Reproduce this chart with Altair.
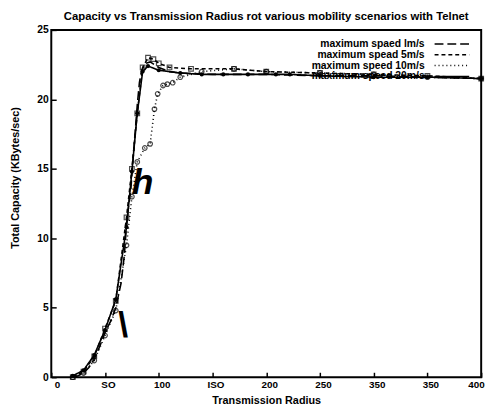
import altair as alt
import pandas as pd

chart_title = "Capacity vs Transmission Radius rot various mobîlity scenarios with Telnet"
x_title = "Transmission Radius"
y_title = "Total Capacity (KBytes/sec)"

series_names = ["maximum spaed lm/s", "maximum spead 5m/s",
                "maximum speed 10m/s", "maximum speed 20m/s"]

# 1 m/s
r1 = [20, 25, 30, 35, 40, 45, 50, 55, 60, 65, 68, 70, 72, 74, 76, 78, 80, 82, 84, 88, 92, 96, 100, 110, 120, 150, 200, 250, 300, 350, 400]
c1 = [0.0, 0.1, 0.3, 0.7, 1.3, 2.2, 3.2, 4.0, 5.0, 6.8, 8.8, 11.0, 12.4, 13.5, 15.6, 17.6, 19.6, 21.2, 22.1, 22.6, 22.7, 22.5, 22.3, 22.0, 21.9, 21.8, 21.8, 21.7, 21.7, 21.6, 21.5]
# 5 m/s
r2 = [20, 30, 40, 50, 60, 70, 75, 80, 85, 90, 95, 100, 110, 130, 170, 200, 250, 300, 350, 400]
c2 = [0.0, 0.4, 1.5, 3.5, 5.5, 11.5, 15.0, 19.0, 22.3, 23.0, 22.9, 22.6, 22.3, 22.2, 22.2, 22.0, 21.9, 21.8, 21.7, 21.5]
# 10 m/s
r3 = [20, 30, 40, 50, 60, 70, 75, 80, 87, 92, 96, 99, 104, 108, 113, 120, 140, 170, 200, 250, 300, 350, 400]
c3 = [0.0, 0.3, 1.2, 3.0, 4.8, 9.5, 13.0, 15.5, 16.5, 16.8, 19.3, 20.4, 21.0, 21.1, 21.2, 21.6, 22.0, 22.2, 22.0, 21.9, 21.8, 21.6, 21.5]
# 20 m/s
r4 = [20, 30, 40, 50, 60, 70, 75, 80, 85, 90, 100, 120, 140, 160, 183, 209, 222, 250, 300, 350, 400]
c4 = [0.1, 0.5, 1.6, 3.4, 5.6, 10.8, 14.8, 19.0, 22.0, 22.4, 22.1, 21.9, 21.8, 21.8, 21.8, 21.8, 21.8, 21.7, 21.6, 21.6, 21.5]

x_tick_values = [0, 50, 100, 150, 200, 250, 300, 350, 400]
x_tick_labels = ["0", "SO", "100", "ISO", "200", "250", "350", "350", "400"]
y_tick_values = [0, 5, 10, 15, 20, 25]

glyphs = ["h", "\\"]
glyph_x = [85, 67]
glyph_y = [14.0, 3.7]

rows = []
for name, rs, cs in zip(series_names, [r1, r2, r3, r4], [c1, c2, c3, c4]):
    for r, c in zip(rs, cs):
        rows.append({"radius": r, "capacity": c, "series": name})
df = pd.DataFrame(rows)
gdf = pd.DataFrame({"g": glyphs, "x": glyph_x, "y": glyph_y})

label_expr = "{" + ", ".join(f"'{v}': '{l}'" for v, l in zip(x_tick_values, x_tick_labels)) + "}[datum.value]"

FONT = "Liberation Sans"

x_enc = alt.X("radius:Q", scale=alt.Scale(domain=[0, 400], nice=False),
              axis=alt.Axis(values=x_tick_values, labelExpr=label_expr, title=x_title,
                            labelOffset=3, labelPadding=7, titleY=27,
                            titleBaseline="alphabetic",
                            ticks=True, tickSize=alt.ExprRef(expr="-5")))
y_enc = alt.Y("capacity:Q", scale=alt.Scale(domain=[0, 25], nice=False),
              axis=alt.Axis(values=y_tick_values, title=y_title, labelPadding=8,
                            titleX=-31, titleY=150,
                            ticks=True, tickSize=alt.ExprRef(expr="-5")))

lines = alt.Chart(df).mark_line(color="black", strokeWidth=1.6).encode(
    x=x_enc, y=y_enc,
    strokeDash=alt.StrokeDash(
        "series:N",
        scale=alt.Scale(domain=series_names, range=[[9, 4], [4, 3], [1, 3], [1, 0]]),
        legend=alt.Legend(title=None, orient="none", legendX=402, legendY=9,
                          symbolType="M-4.4,0L4.4,0", symbolSize=64, symbolStrokeWidth=1.5,
                          symbolStrokeColor="black", labelAlign="right",
                          labelOffset=alt.ExprRef(expr="-33"),
                          labelFont=FONT, labelFontSize=10.5, labelFontWeight="bold",
                          labelColor="black", rowPadding=alt.ExprRef(expr="-1.5"),
                          labelLimit=300)),
    order="radius:Q",
)

hollow = alt.Chart(df).transform_filter(
    alt.FieldOneOfPredicate(field="series", oneOf=series_names[1:3])
).mark_point(color="black", size=22, strokeWidth=1.2, filled=False).encode(
    x="radius:Q", y="capacity:Q",
    shape=alt.Shape("series:N", scale=alt.Scale(domain=series_names[1:3], range=["square", "circle"]), legend=None),
)

filled = alt.Chart(df).transform_filter(
    alt.FieldEqualPredicate(field="series", equal=series_names[3])
).mark_point(color="black", size=18, filled=True, opacity=1).encode(
    x="radius:Q", y="capacity:Q")

h_text = alt.Chart(gdf).transform_filter(alt.datum.g == "h").mark_text(
    font=FONT, fontSize=36, fontWeight="bold", fontStyle="italic", color="black",
    align="center", baseline="middle").encode(x="x:Q", y="y:Q", text="g:N")
slash_text = alt.Chart(gdf).transform_filter(alt.datum.g == "\\").mark_text(
    font=FONT, fontSize=36, fontWeight="bold", color="black",
    align="center", baseline="middle").encode(x="x:Q", y="y:Q", text="g:N")

chart = alt.layer(lines, hollow, filled, h_text, slash_text).properties(
    width=437, height=353,
    title=alt.TitleParams(chart_title, font=FONT, fontSize=11.5, fontWeight="bold",
                          color="black", anchor="middle", offset=3),
    autosize=alt.AutoSizeParams(type="none"),
    padding={"left": 44, "top": 19, "right": 11, "bottom": 28},
).configure_view(stroke="black", strokeWidth=2).configure_axis(
    domain=False, grid=False, labelFont=FONT, labelFontSize=10,
    labelFontWeight="bold", labelColor="black", titleFont=FONT, titleFontSize=11,
    titleFontWeight="bold", titleColor="black", tickColor="black", tickWidth=1.5,
).configure_axisY(titleFontSize=11, labelFontSize=10.5)

chart.save("out.html", embed_options={"renderer": "svg", "actions": False})
